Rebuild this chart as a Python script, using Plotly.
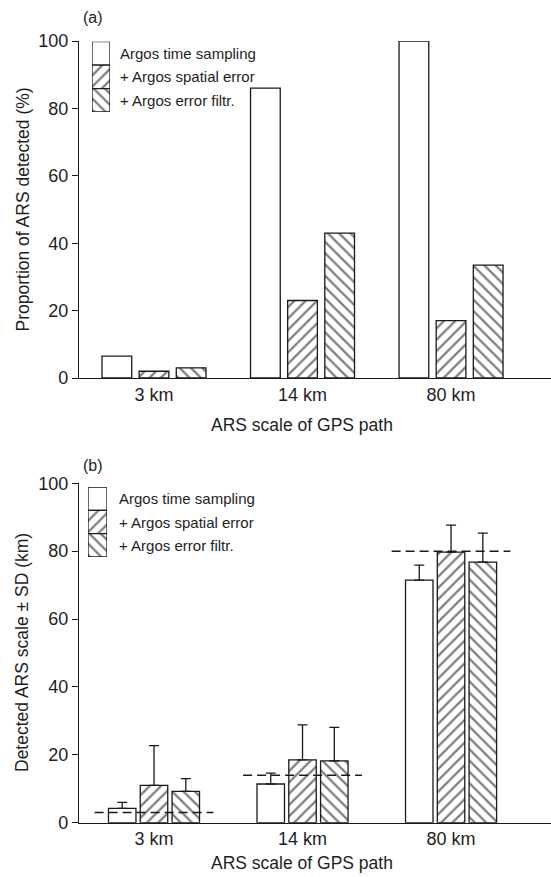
import plotly.graph_objects as go

# ---------------- data ----------------
categories = ["3 km", "14 km", "80 km"]
series_names = ["Argos time sampling", "+ Argos spatial error", "+ Argos error filtr."]

# panel (a): proportion of ARS detected (%)
prop_time = [6.5, 86, 100]
prop_spatial = [2, 23, 17]
prop_filtr = [3, 43, 33.5]

# panel (b): detected ARS scale (km) and SD
scale_time = [4.2, 11.4, 71.5]
sd_time = [1.8, 3.2, 4.4]
scale_spatial = [11.0, 18.5, 79.7]
sd_spatial = [11.7, 10.3, 8.0]
scale_filtr = [9.25, 18.2, 76.8]
sd_filtr = [3.75, 9.9, 8.5]

true_scale = [3, 14, 80]

# ---------------- styling ----------------
W, H = 551, 877
FONT = "Liberation Sans, Arial, Helvetica, sans-serif"
TXT = "#1e1e1e"
LINE = "#1a1a1a"
patterns = ["", "/", "\\"]

def px_x(p):
    return p / W

def px_y(p):
    return 1 - p / H

fig = go.Figure()

xs = list(range(len(categories)))

def pat(k):
    return dict(shape=patterns[k], fgcolor="#000000", bgcolor="white",
                size=8, solidity=0.28)

def add_bars(vals, errs, xa, ya, rel, w):
    for k, v in enumerate(vals):
        err = None
        if errs is not None:
            err = dict(type="data", symmetric=False, array=errs[k],
                       arrayminus=[0] * len(errs[k]), color=LINE,
                       thickness=1.3, width=5)
        fig.add_trace(go.Bar(
            x=xs, y=v, width=w, offset=rel[k] - w / 2,
            xaxis=xa, yaxis=ya, showlegend=False,
            marker=dict(color="white",
                        line=dict(color=LINE, width=1.3),
                        pattern=pat(k)),
            error_y=err,
        ))

# panel (a)
add_bars([prop_time, prop_spatial, prop_filtr], None, "x", "y",
         [-0.25, 0.0, 0.25], 0.2)

# panel (b)
add_bars([scale_time, scale_spatial, scale_filtr],
         [sd_time, sd_spatial, sd_filtr], "x2", "y2",
         [-0.214, 0.0, 0.214], 0.185)

# dashed reference lines (true ARS scale)
dx, dy = [], []
for i, t in enumerate(true_scale):
    dx += [i - 0.4, i + 0.4, None]
    dy += [t, t, None]
fig.add_trace(go.Scatter(x=dx, y=dy, mode="lines", xaxis="x2", yaxis="y2",
                         showlegend=False,
                         line=dict(color=LINE, width=1.4, dash="9px,5px")))

# custom stacked legend swatches
for (xa, ya) in [("x3", "y3"), ("x4", "y4")]:
    for k in range(3):
        fig.add_trace(go.Bar(
            x=[0], y=[1], base=[2 - k], width=1, xaxis=xa, yaxis=ya,
            showlegend=False, hoverinfo="skip",
            marker=dict(color="white", line=dict(color=LINE, width=1.3),
                        pattern=pat(k)),
        ))

xrange = [-0.505, 2.673]
axis_common = dict(showline=True, linecolor=LINE, linewidth=1.3,
                   showgrid=False, zeroline=False, automargin=False)
xcommon = dict(axis_common, range=xrange, tickvals=xs, ticktext=categories,
               ticks="", tickfont=dict(size=18, color=TXT, family=FONT))
ycommon = dict(axis_common, range=[0, 100], tickvals=[0, 20, 40, 60, 80, 100],
               ticks="outside", ticklen=6, tickwidth=1.3, tickcolor=LINE,
               tickfont=dict(size=18, color=TXT, family=FONT))

legend_ax = dict(visible=False, showgrid=False, zeroline=False, fixedrange=True,
                 automargin=False)

fig.update_layout(
    width=W, height=H,
    margin=dict(l=0, r=0, t=0, b=0, pad=0, autoexpand=False),
    paper_bgcolor="white", plot_bgcolor="white",
    barmode="overlay",
    showlegend=False,
    font=dict(family=FONT, color=TXT),
    xaxis=dict(xcommon, domain=[px_x(79), 1.0], anchor="y"),
    yaxis=dict(ycommon, domain=[px_y(378), px_y(41)], anchor="x"),
    xaxis2=dict(xcommon, domain=[px_x(79), 1.0], anchor="y2"),
    yaxis2=dict(ycommon, domain=[px_y(822.7), px_y(483.3)], anchor="x2"),
    xaxis3=dict(legend_ax, domain=[px_x(92), px_x(110)], range=[-0.5, 0.5], anchor="y3"),
    yaxis3=dict(legend_ax, domain=[px_y(112), px_y(41.7)], range=[0, 3], anchor="x3"),
    xaxis4=dict(legend_ax, domain=[px_x(88), px_x(107)], range=[-0.5, 0.5], anchor="y4"),
    yaxis4=dict(legend_ax, domain=[px_y(557), px_y(487)], range=[0, 3], anchor="x4"),
)

def note(x, y, text, size, angle=0, xanchor="center"):
    return dict(x=px_x(x), y=px_y(y), xref="paper", yref="paper", text=text,
                showarrow=False, xanchor=xanchor, yanchor="middle",
                textangle=angle, font=dict(size=size, color=TXT, family=FONT))

ann = []
for k, name in enumerate(series_names):
    ann.append(note(118, 53 + 23.5 * k, name, 15, xanchor="left"))
    ann.append(note(117, 498.5 + 23.7 * k, name, 15, xanchor="left"))
ann.append(note(93, 17, "(a)", 16))
ann.append(note(93, 465, "(b)", 16))
ann.append(note(302, 425, "ARS scale of GPS path", 17.5))
ann.append(note(302, 863, "ARS scale of GPS path", 17.5))
ann.append(note(22, 209.5, "Proportion of ARS detected (%)", 17.5, angle=-90))
ann.append(note(22, 653, "Detected ARS scale ± SD (km)", 17.5, angle=-90))
fig.update_layout(annotations=ann)

fig.write_html("out.html")
